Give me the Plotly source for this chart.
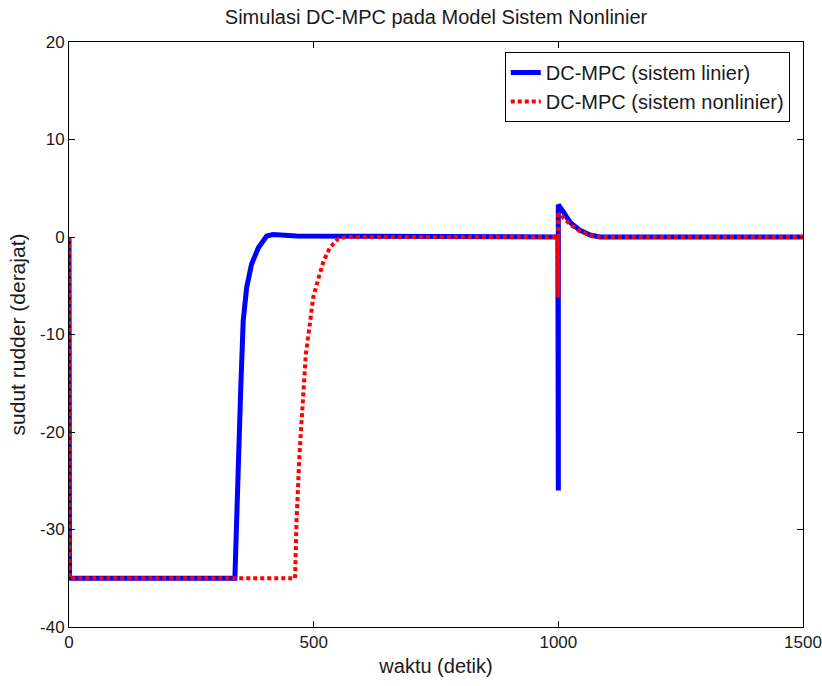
import plotly.graph_objects as go

# Data
t_linier = [0, 1, 339, 342, 346, 351, 356, 363, 373, 387, 404, 417, 465,
            999, 1000, 1000, 1010, 1024, 1044, 1065, 1085, 1500]
y_linier = [0, -35, -35, -29.1, -22.3, -15.5, -8.6, -5.2, -2.8, -1.1, 0.1, 0.25, 0.1,
            0, -26, 3.3, 2.6, 1.5, 0.7, 0.2, 0, 0]

t_nonlinier = [0, 1, 462, 465, 471, 478, 484, 493, 499, 510, 520, 533, 550, 564,
               999, 1000, 1000, 1010, 1024, 1044, 1065, 1085, 1500]
y_nonlinier = [0, -35, -35, -29.1, -22.3, -17.1, -12.0, -8.6, -6.2, -4.2, -2.5, -1.1, -0.2, 0,
               0, -6.2, 2.4, 2.0, 1.3, 0.6, 0.2, 0, 0]

x_ticks = [0, 500, 1000, 1500]
x_ticklabels = ["0", "500", "1000", "1500"]
y_ticks = [-40, -30, -20, -10, 0, 10, 20]
y_ticklabels = ["-40", "-30", "-20", "-10", "0", "10", "20"]

FONT = "Liberation Sans, Arial, sans-serif"
TXT = "#1a1a1a"

fig = go.Figure()
fig.add_trace(go.Scatter(x=t_linier, y=y_linier, mode="lines",
                         name="DC-MPC (sistem linier)",
                         line=dict(color="#0000FF", width=5)))
fig.add_trace(go.Scatter(x=t_nonlinier, y=y_nonlinier, mode="lines",
                         name="DC-MPC (sistem nonlinier)",
                         line=dict(color="#FF0000", width=4, dash="4px,3px")))

axis_common = dict(showgrid=False, zeroline=False, showline=True, linecolor="black",
                   linewidth=1, mirror="ticks", ticks="inside", ticklen=6,
                   tickcolor="black", automargin=False,
                   tickfont=dict(family=FONT, size=17, color=TXT))

fig.update_layout(
    width=822, height=686,
    margin=dict(l=69, r=19, t=42, b=59),
    paper_bgcolor="white", plot_bgcolor="white",
    font=dict(family=FONT, color=TXT),
    title=dict(text="Simulasi DC-MPC pada Model Sistem Nonlinier",
               x=0.5, xref="paper", xanchor="center",
               y=1 - 17 / 686, yanchor="middle",
               font=dict(family=FONT, size=20, color=TXT)),
    xaxis=dict(range=[0, 1500], tickvals=x_ticks, ticktext=x_ticklabels,
               title=dict(text="waktu (detik)", font=dict(family=FONT, size=20),
                          standoff=7),
               **axis_common),
    yaxis=dict(range=[-40, 20], tickvals=y_ticks, ticktext=y_ticklabels,
               title=dict(text="sudut rudder (derajat)", font=dict(family=FONT, size=21),
                          standoff=8),
               **axis_common),
    legend=dict(x=0.982, xanchor="right", y=0.983, yanchor="top",
                bgcolor="white", bordercolor="black", borderwidth=1,
                font=dict(family=FONT, size=20, color=TXT),
                tracegroupgap=0),
    showlegend=True,
)

fig.write_html(
    "out.html",
    config={"displayModeBar": False},
    post_script="document.body.style.margin='0';document.body.style.overflow='hidden';",
)
